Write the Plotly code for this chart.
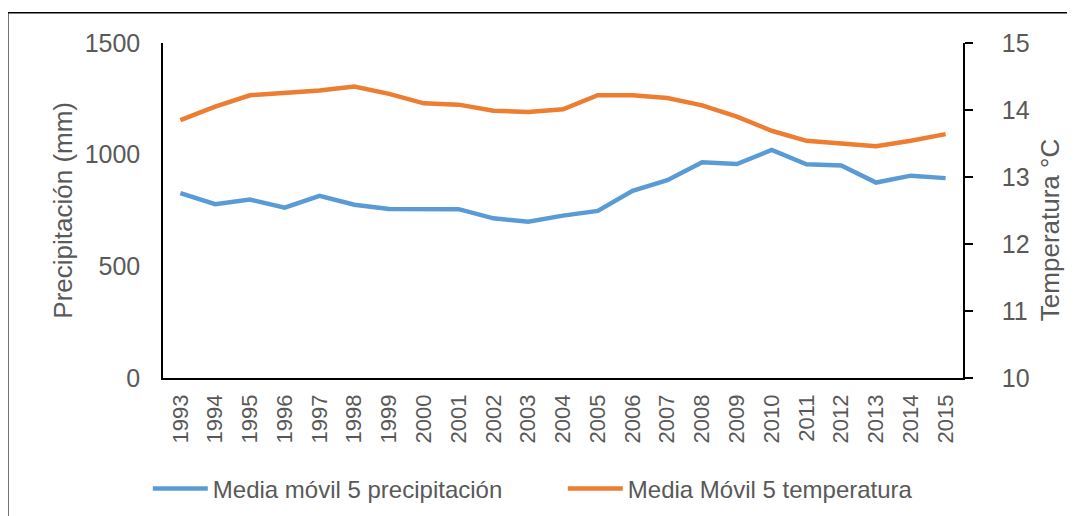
"""
Precipitation and temperature 5-year moving averages, dual axis line chart
"""
import plotly.graph_objects as go

years = [str(y) for y in range(1993, 2016)]

precip_mm = [828, 778, 799, 763, 816, 776, 757, 755, 756, 715, 700, 727, 748,
             838, 886, 966, 958, 1021, 957, 952, 875, 906, 895]

temp_c = [13.85, 14.05, 14.22, 14.26, 14.29, 14.35, 14.24, 14.10, 14.08, 13.99,
          13.97, 14.01, 14.22, 14.22, 14.18, 14.07, 13.90, 13.69, 13.54, 13.50,
          13.46, 13.54, 13.64]

FONT = "Liberation Sans, Arial, sans-serif"
GREY = "#595959"

fig = go.Figure()

fig.add_trace(go.Scatter(
    x=years, y=precip_mm, name="Media móvil 5 precipitación",
    mode="lines", line=dict(color="#5B9BD5", width=4.5),
))
fig.add_trace(go.Scatter(
    x=years, y=temp_c, name="Media Móvil 5 temperatura",
    mode="lines", line=dict(color="#ED7D31", width=4.5), yaxis="y2",
))

# page body has an 8px margin; the figure runs a little past the bottom edge
# so the legend has room without pushing the plot margin
fig.update_layout(
    width=1067, height=516,
    margin=dict(l=155, r=112, t=35, b=146),
    paper_bgcolor="white", plot_bgcolor="white",
    font=dict(family=FONT, color=GREY),
    showlegend=True,
    legend=dict(
        orientation="h", x=-0.019, xanchor="left",
        y=-0.398, yanchor="bottom",
        font=dict(size=24, color=GREY), itemwidth=55,
        entrywidth=345, entrywidthmode="pixels",
    ),
    xaxis=dict(
        type="category", range=[-0.5, 22.5], showgrid=False, showline=True,
        linecolor="black", linewidth=1.5, ticks="", tickangle=-90,
        tickfont=dict(size=22, color=GREY), ticklabelstandoff=6,
    ),
    yaxis=dict(
        range=[0, 1500], dtick=500, showgrid=False, showline=True,
        linecolor="black", linewidth=1.5, ticks="", zeroline=False,
        tickfont=dict(size=25, color=GREY), ticklabelstandoff=16,
    ),
    yaxis2=dict(
        range=[10, 15], dtick=1, overlaying="y", side="right", showgrid=False,
        showline=True, linecolor="black", linewidth=1.5, ticks="outside",
        ticklen=8, tickwidth=1.5, tickcolor="black", zeroline=False,
        tickfont=dict(size=25, color=GREY), ticklabelstandoff=24,
    ),
)

# axis titles
fig.add_annotation(text="Precipitación (mm)", xref="paper", yref="paper",
                   x=-0.126, y=0.5, xanchor="center", yanchor="middle",
                   textangle=-90, showarrow=False,
                   font=dict(size=26, color=GREY))
fig.add_annotation(text="Temperatura °C", xref="paper", yref="paper",
                   x=1.109, y=0.442, xanchor="center", yanchor="middle",
                   textangle=-90, showarrow=False,
                   font=dict(size=26, color=GREY))

# outer chart border, runs off the right and bottom edges like the source
fig.add_shape(type="rect", xref="paper", yref="paper",
              x0=-0.194, y0=-0.6, x1=1.25, y1=1.09,
              line=dict(color="black", width=1.5), layer="below")

fig.write_html("out.html")
